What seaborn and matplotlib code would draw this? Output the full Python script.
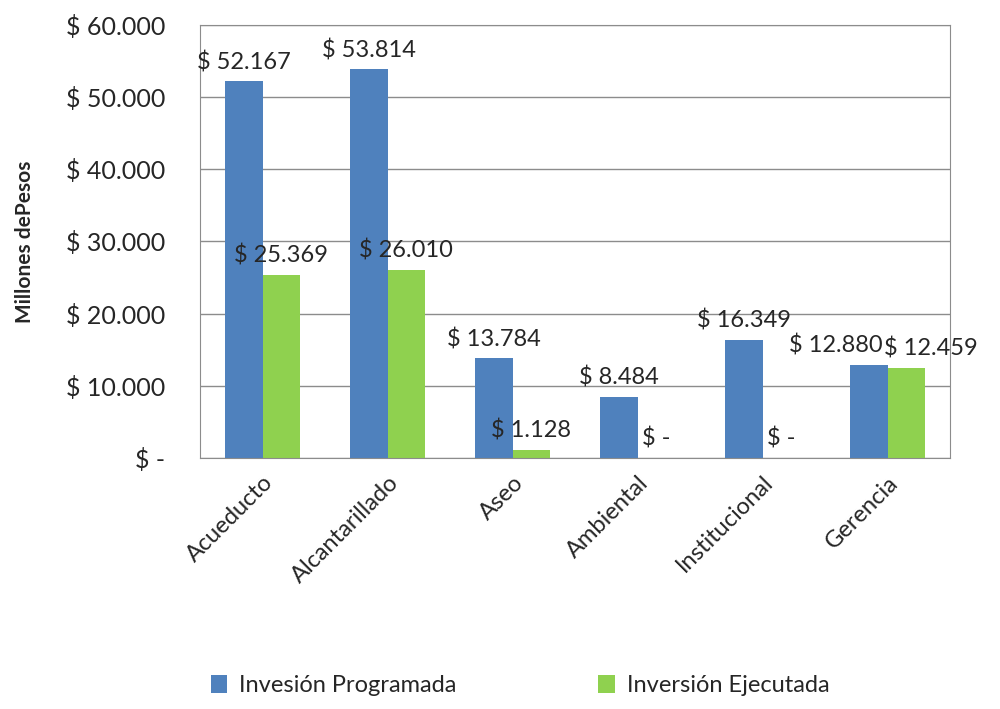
import pandas as pd
import seaborn as sns
import matplotlib.pyplot as plt

# Data (millions of pesos)
categories = ['Acueducto', 'Alcantarillado', 'Aseo', 'Ambiental', 'Institucional', 'Gerencia']
programada = [52167, 53814, 13784, 8484, 16349, 12880]
ejecutada = [25369, 26010, 1128, 0, 0, 12459]
series = ['Invesión Programada', 'Inversión Ejecutada']
yticks = [0, 10000, 20000, 30000, 40000, 50000, 60000]

df = pd.DataFrame({
    'Categoria': categories * 2,
    'Serie': [series[0]] * len(categories) + [series[1]] * len(categories),
    'Valor': programada + ejecutada,
})

sns.set_style('white')
plt.rcParams['font.family'] = ['Lato', 'DejaVu Sans']

def peso(v):
    if v == 0:
        return '$ -'
    return '$ ' + f'{v:,.0f}'.replace(',', '.')

fig = plt.figure(figsize=(10, 7.09), dpi=100)
ax = fig.add_axes([0.2, 0.354, 0.75, 0.611])

sns.barplot(data=df, x='Categoria', y='Valor', hue='Serie',
            palette=['#4F81BD', '#8FD14F'], width=0.6, ax=ax,
            edgecolor='none', saturation=1)

labels = []
for cont, vals in zip(ax.containers, [programada, ejecutada]):
    labels.append(ax.bar_label(cont, labels=[peso(v) for v in vals], padding=6, fontsize=17))

# pull apart the two Gerencia labels so they don't collide
labels[0][-1].xyann = (-24, 6)
labels[1][-1].xyann = (18, 6)

ax.set_ylim(0, 60000)
ax.set_yticks(yticks)
ax.set_yticklabels([peso(v) for v in yticks], fontsize=18)
ax.yaxis.grid(True, color='#8c8c8c', linewidth=1)
ax.set_axisbelow(True)
for s in ax.spines.values():
    s.set_color('#8c8c8c')
ax.tick_params(axis='y', length=0, pad=25)
ax.tick_params(axis='x', length=0, pad=10)
plt.setp(ax.get_xticklabels(), rotation=45, ha='right', rotation_mode='anchor', fontsize=17)
ax.set_xlabel('')
ax.set_ylabel('Millones dePesos', fontsize=15, fontweight='bold', labelpad=22)

ax.get_legend().remove()
handles, names = ax.get_legend_handles_labels()
fig.legend(handles, names, loc='lower center', bbox_to_anchor=(0.52, -0.012), ncol=2,
           frameon=False, fontsize=17, handlelength=0.7, handleheight=0.8,
           handletextpad=0.5, columnspacing=6)

fig.savefig('out.png', dpi=100)
